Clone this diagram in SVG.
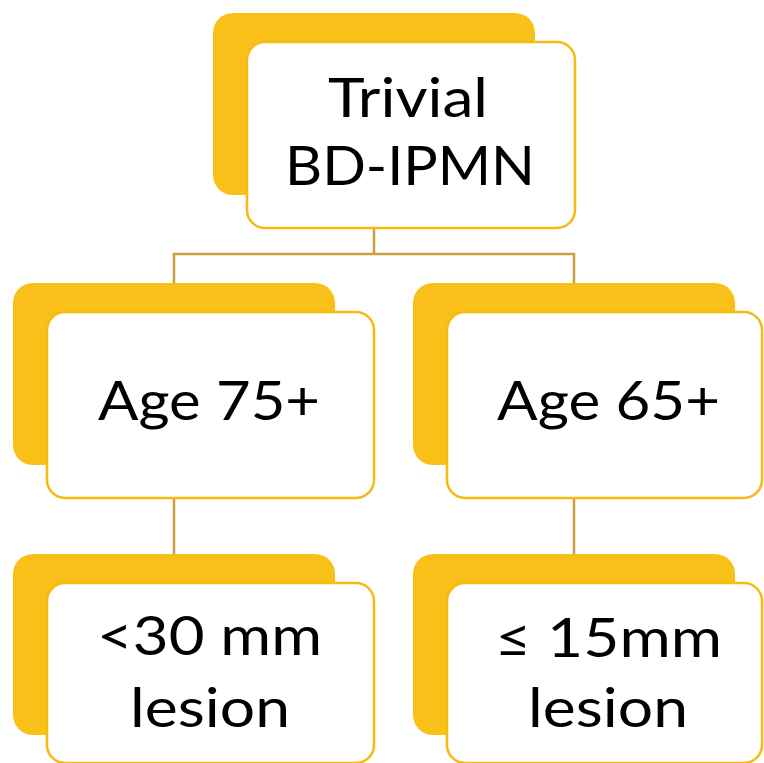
<svg xmlns="http://www.w3.org/2000/svg" width="764" height="763" viewBox="0 0 764 763">
<style>
.back{fill:#FAC01A}
.front{fill:#FFFFFF;stroke:#F6BA12;stroke-width:2.5}
.conn{fill:none;stroke:#C9A13E;stroke-width:2.5}
.t{font-family:Lato,"Liberation Sans",Arial,sans-serif;font-size:54px;fill:#000;text-anchor:middle}
</style>
<rect width="764" height="763" fill="#FFFFFF"/>
<g id="connectors">
<path class="conn" d="M374,228 V254 M174,283 V254 H574 V283"/>
<path class="conn" d="M174,498 V554"/>
<path class="conn" d="M574,498 V554"/>
</g>
<g id="node-top">
<rect class="back" x="213" y="13" width="322" height="182" rx="20"/>
<rect class="front" x="247" y="42" width="328" height="186" rx="18"/>
<text class="t" x="408" y="117" textLength="160" lengthAdjust="spacingAndGlyphs">Trivial</text>
<text class="t" x="410" y="185" textLength="250" lengthAdjust="spacingAndGlyphs">BD-IPMN</text>
</g>
<g id="node-age75">
<rect class="back" x="13" y="283" width="322" height="182" rx="20"/>
<rect class="front" x="47" y="312" width="327" height="186" rx="18"/>
<text class="t" x="209" y="420" textLength="222" lengthAdjust="spacingAndGlyphs">Age 75+</text>
</g>
<g id="node-age65">
<rect class="back" x="413" y="283" width="322" height="182" rx="20"/>
<rect class="front" x="447" y="312" width="315" height="186" rx="18"/>
<text class="t" x="608.5" y="420" textLength="223" lengthAdjust="spacingAndGlyphs">Age 65+</text>
</g>
<g id="node-30mm">
<rect class="back" x="13" y="554" width="322" height="181" rx="20"/>
<rect class="front" x="47" y="583" width="327" height="180" rx="18"/>
<text class="t" x="209.5" y="655" textLength="225" lengthAdjust="spacingAndGlyphs">&lt;30 mm</text>
<text class="t" x="210" y="727" textLength="160" lengthAdjust="spacingAndGlyphs">lesion</text>
</g>
<g id="node-15mm">
<rect class="back" x="413" y="554" width="322" height="181" rx="20"/>
<rect class="front" x="447" y="583" width="315" height="180" rx="18"/>
<text class="t" x="608.5" y="657" textLength="227" lengthAdjust="spacingAndGlyphs">≤ 15mm</text>
<text class="t" x="608" y="727" textLength="160" lengthAdjust="spacingAndGlyphs">lesion</text>
</g>
</svg>
